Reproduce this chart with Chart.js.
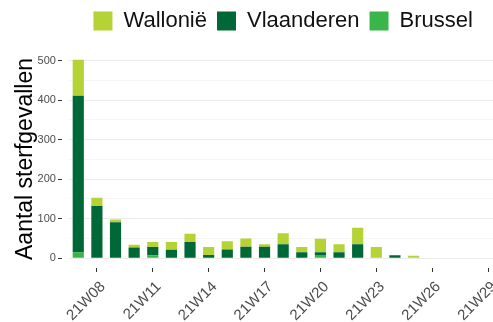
<!DOCTYPE html>
<html>
<head>
<meta charset="utf-8">
<script src="https://cdn.jsdelivr.net/npm/chart.js@4"></script>
<style>
  html, body { margin: 0; padding: 0; background: #fff; overflow: hidden; }
  #wrap { width: 507px; height: 322px; }
</style>
</head>
<body>
<div id="wrap"><canvas id="chart"></canvas></div>
<script>
const weeks = ['21W07', '21W08', '21W09', '21W10', '21W11', '21W12', '21W13', '21W14',
  '21W15', '21W16', '21W17', '21W18', '21W19', '21W20', '21W21', '21W22', '21W23',
  '21W24', '21W25', '21W26', '21W27', '21W28', '21W29'];
const weekLabels = ['21W08', '21W11', '21W14', '21W17', '21W20', '21W23', '21W26', '21W29'];
const brussel    = [14, 0, 0, 0, 7, 0, 0, 0, 0, 0, 0, 0, 0, 8, 0, 0, 0, 0, 0, 0, 0, 0, 0];
const vlaanderen = [397, 132, 91, 27, 21, 21, 41, 8, 22, 29, 29, 35, 15, 7, 15, 35, 0, 7, 0, 0, 0, 0, 0];
const wallonie   = [91, 21, 7, 7, 13, 20, 21, 20, 21, 21, 6, 28, 13, 34, 20, 42, 28, 0, 6, 0, 0, 0, 0];
const yTicks = [0, 100, 200, 300, 400, 500];
const yMinor = [50, 150, 250, 350, 450];

const lime = '#B5D334';
const darkGreen = '#006837';
const green = '#39B54A';

Chart.defaults.font.family = "'Liberation Sans', Arial, sans-serif";
Chart.defaults.color = '#000';

// extra room between legend and plot
const legendGap = {
  id: 'legendGap',
  beforeInit(chart) {
    const fit = chart.legend.fit;
    chart.legend.fit = function () {
      fit.call(this);
      this.height += 8;
    };
  }
};

const isMajor = v => yTicks.includes(v);

new Chart(document.getElementById('chart'), {
  type: 'bar',
  data: {
    labels: weeks,
    datasets: [
      { label: 'Brussel', data: brussel, backgroundColor: green },
      { label: 'Vlaanderen', data: vlaanderen, backgroundColor: darkGreen },
      { label: 'Wallonië', data: wallonie, backgroundColor: lime }
    ]
  },
  plugins: [legendGap],
  options: {
    responsive: true,
    maintainAspectRatio: false,
    animation: false,
    layout: { padding: { left: 9, bottom: 0 } },
    datasets: { bar: { categoryPercentage: 1, barPercentage: 0.6 } },
    plugins: {
      legend: {
        position: 'top',
        fullSize: false,
        reverse: true,
        labels: {
          boxWidth: 19,
          boxHeight: 19,
          padding: 10,
          color: '#111',
          font: { size: 22 }
        }
      },
      tooltip: { enabled: false }
    },
    scales: {
      x: {
        stacked: true,
        offset: true,
        border: { display: false },
        afterFit: axis => { axis.height = 54; },
        grid: {
          drawOnChartArea: false,
          offset: false,
          tickLength: 4,
          tickColor: ctx => weekLabels.includes(weeks[ctx.index]) ? '#333' : 'rgba(0,0,0,0)'
        },
        ticks: {
          autoSkip: false,
          minRotation: 45,
          maxRotation: 45,
          padding: 6,
          labelOffset: 6,
          color: '#4D4D4D',
          font: { size: 15 },
          callback: function (v) {
            const l = this.getLabelForValue(v);
            return weekLabels.includes(l) ? l : '';
          }
        }
      },
      y: {
        stacked: true,
        min: -25,
        max: 527,
        border: { display: false },
        afterBuildTicks: axis => {
          axis.ticks = [...yTicks, ...yMinor].sort((a, b) => a - b).map(v => ({ value: v }));
        },
        grid: {
          color: ctx => isMajor(ctx.tick.value) ? '#EBEBEB' : '#F5F5F5',
          tickColor: ctx => isMajor(ctx.tick.value) ? '#333' : 'rgba(0,0,0,0)',
          tickLength: 11,
          tickBorderDash: [4, 7]
        },
        ticks: {
          autoSkip: false,
          padding: 2,
          color: '#4D4D4D',
          font: { size: 11 },
          callback: v => isMajor(v) ? String(v) : ''
        },
        title: {
          display: true,
          text: 'Aantal sterfgevallen',
          color: '#000',
          font: { size: 23 },
          padding: { top: 3, bottom: -4 }
        }
      }
    }
  }
});
</script>
</body>
</html>
